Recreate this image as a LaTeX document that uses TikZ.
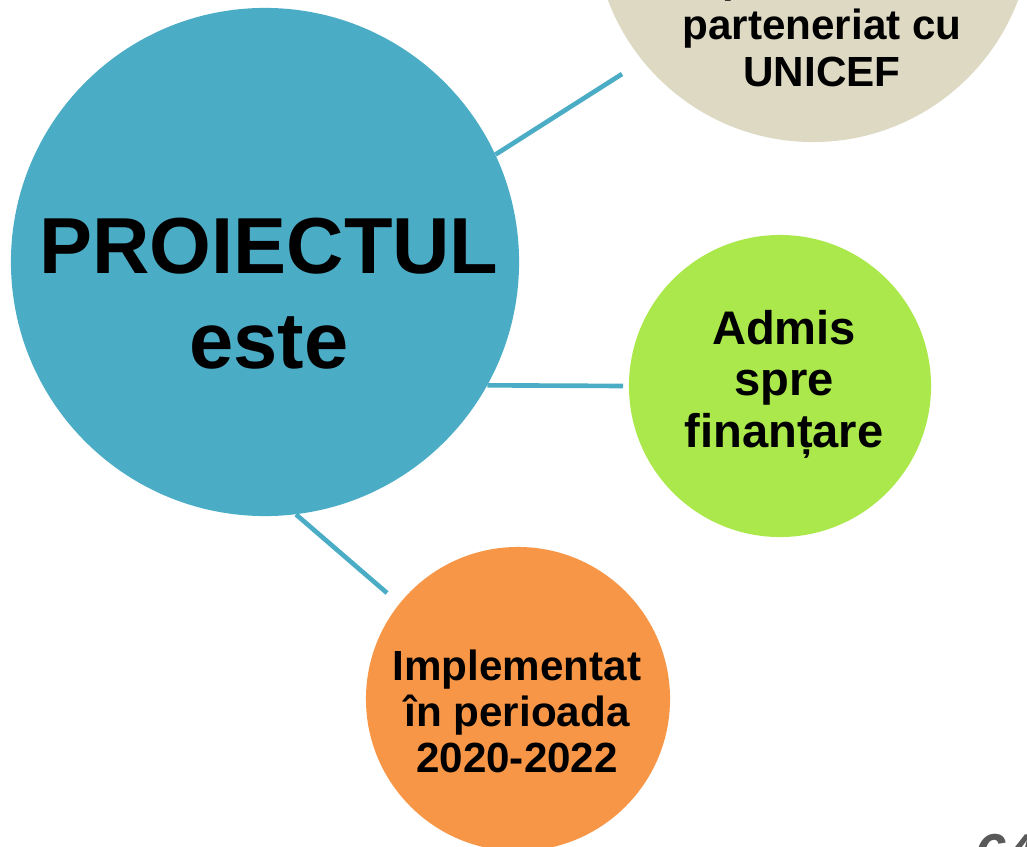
\documentclass[tikz,border=0pt]{standalone}
\usepackage{fontspec}
\setmainfont{Liberation Sans}
\usepackage{tikz}
\definecolor{projblue}{HTML}{4BACC6}
\definecolor{unibeige}{HTML}{DDD9C3}
\definecolor{fingreen}{HTML}{ABE84B}
\definecolor{implorange}{HTML}{F79646}
\definecolor{pagegray}{HTML}{595959}
\tikzset{
  bubble/.style={circle, inner sep=0pt},
  bubbletext/.style={align=center, text=black},
  link/.style={projblue, line width=3.3pt}
}

\begin{document}
\begin{tikzpicture}[x=0.025cm, y=-0.025cm]
  \useasboundingbox (0,0) rectangle (1027,847);
  \clip (0,0) rectangle (1027,847);
  %% circles
  \node[bubble, fill=projblue, minimum size=12.7cm] (proj) at (265,262) {};
  \node[bubble, fill=unibeige, minimum size=10.95cm] (unicef) at (813,-77) {};
  \node[bubble, fill=fingreen, minimum size=7.55cm] (fin) at (780,386) {};
  \node[bubble, fill=implorange, minimum size=7.6cm] (impl) at (518,699) {};
  %% circle texts
  \node[bubbletext, font=\bfseries\fontsize{56.5}{67.6}\selectfont] (projtext) at (269,294) {PROIECTUL\\este};
  \node[bubbletext, font=\bfseries\fontsize{30}{33.4}\selectfont] (uniceftext) at (822,24) {Implementat în\\parteneriat cu\\UNICEF};
  \node[bubbletext, font=\bfseries\fontsize{33.5}{36.6}\selectfont] (fintext) at (784,384) {Admis\\spre\\finanțare};
  \node[bubbletext, font=\bfseries\fontsize{30}{32.7}\selectfont] (impltext) at (517,711) {Implementat\\în perioada\\2020-2022};
  %% connector ends
  \coordinate (unicefend) at (622,74);
  \coordinate (finend) at (623,386);
  \coordinate (implend) at (387,593);
  %% connectors
  \draw[link] (proj.25) -- (unicefend);   % proj - unicef
  \draw[link] (proj.-29) -- (finend);     % proj - fin
  \draw[link] (proj.-83) -- (implend);    % proj - impl
  %% page number
  \node[anchor=north west, inner sep=0pt, text=pagegray, font=\bfseries\itshape\fontsize{40}{40}\selectfont] (pagenr) at (974,834) {64};
\end{tikzpicture}
\end{document}
